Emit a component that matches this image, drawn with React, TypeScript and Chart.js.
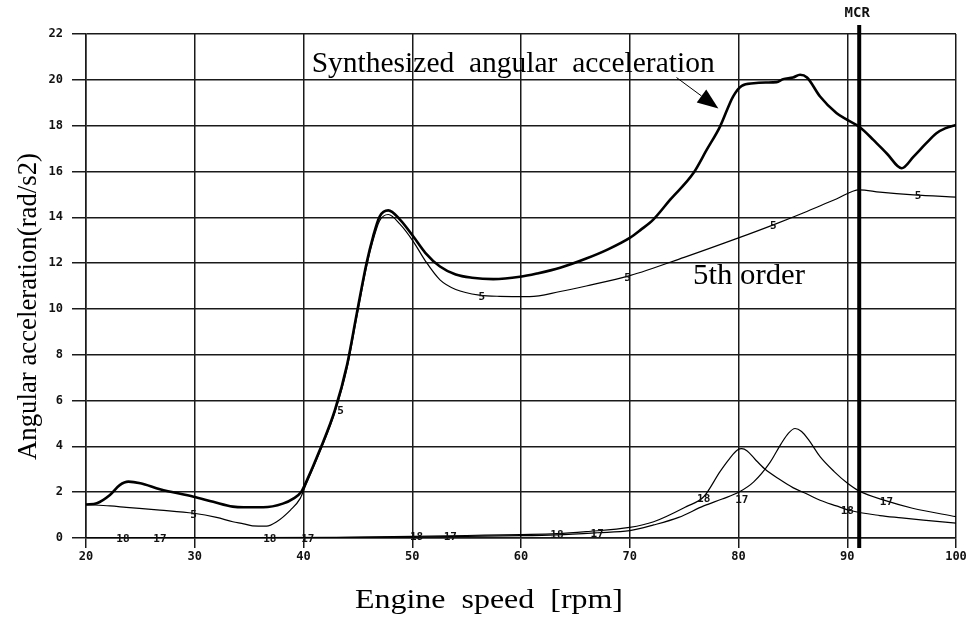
import React, { useEffect, useRef } from "react";
import { Chart, registerables } from "chart.js";
Chart.register(...registerables);

// ---- data ----
const synthRpm = [20, 21, 22.2, 23.1, 23.9, 25, 26.8, 29.9, 31.7, 33.5, 34.5, 36.3, 38.1, 39.1, 39.8, 40.2, 41.5, 42.9, 44.0, 44.9, 45.8, 46.4, 47.0, 47.8, 48.87, 50.1, 51.2, 52.55, 54, 55.5, 57.45, 59.9, 61.5, 63.6, 66, 68, 70, 71, 72.16, 73.7, 75.84, 77.07, 78.3, 79.5, 80.3, 81.4, 82.5, 83.5, 84.1, 85, 85.66, 86.3, 87.5, 89, 90, 91.1, 92.4, 93.7, 95, 96.1, 97.2, 98.2, 99, 100];
const synthVal = [1.46, 1.52, 1.88, 2.31, 2.46, 2.39, 2.13, 1.8, 1.58, 1.37, 1.34, 1.34, 1.5, 1.73, 2.02, 2.4, 3.84, 5.6, 7.55, 9.8, 12.0, 13.16, 14.03, 14.3, 13.9, 13.16, 12.45, 11.85, 11.5, 11.36, 11.3, 11.4, 11.55, 11.8, 12.2, 12.6, 13.1, 13.45, 13.9, 14.76, 15.92, 16.94, 17.96, 19.27, 19.74, 19.85, 19.88, 19.9, 20.03, 20.1, 20.22, 20.1, 19.27, 18.55, 18.25, 17.95, 17.38, 16.75, 16.14, 16.65, 17.2, 17.67, 17.88, 18.03];

const order5Rpm = [20, 22.2, 23.7, 26.8, 29.9, 32, 33.5, 34.5, 35.3, 36.6, 37.5, 38.8, 39.7, 40.2, 41.5, 42.9, 44.0, 44.9, 45.8, 46.4, 47.0, 47.8, 48.87, 50.1, 51.2, 52.55, 54, 56.2, 58, 60.8, 63.6, 66, 70, 75, 80, 83.2, 86, 89, 91.1, 93, 96.1, 100];
const order5Val = [1.46, 1.4, 1.34, 1.22, 1.08, 0.9, 0.71, 0.62, 0.53, 0.52, 0.7, 1.22, 1.73, 2.3, 3.75, 5.5, 7.4, 9.65, 11.85, 13.0, 13.85, 14.12, 13.7, 12.94, 12.1, 11.27, 10.85, 10.6, 10.55, 10.54, 10.76, 11.0, 11.45, 12.25, 13.1, 13.67, 14.2, 14.8, 15.2, 15.1, 14.98, 14.88];

const order18Rpm = [20, 43, 50, 55, 60, 63.3, 66, 70, 72.2, 75.2, 76.8, 78.3, 79.2, 79.9, 80.3, 80.8, 81.5, 82.4, 83.8, 85, 86.3, 87.5, 89, 90.25, 93, 95, 97, 100];
const order18Val = [0, 0.03, 0.07, 0.11, 0.15, 0.19, 0.28, 0.46, 0.71, 1.37, 1.8, 2.9, 3.48, 3.84, 3.9, 3.8, 3.45, 3.02, 2.55, 2.2, 1.92, 1.65, 1.4, 1.2, 0.98, 0.88, 0.78, 0.65];

const order17Rpm = [20, 43, 50, 55, 60, 63.3, 67, 70, 72.2, 74.5, 76.8, 78.5, 80.1, 81.4, 82.9, 83.9, 84.6, 85.2, 85.8, 86.5, 87.5, 88.8, 90, 91.1, 93.6, 96, 100];
const order17Val = [0, 0.02, 0.04, 0.07, 0.1, 0.14, 0.23, 0.32, 0.57, 0.9, 1.4, 1.7, 2.02, 2.45, 3.3, 4.1, 4.58, 4.78, 4.65, 4.25, 3.55, 2.9, 2.4, 2.05, 1.62, 1.3, 0.93];

// curve tags (order numbers written along each curve)
const order5TagRpm = [29.9, 43.4, 56.4, 69.8, 83.2, 96.5];
const order5TagVal = [1.05, 5.6, 10.57, 11.4, 13.67, 14.98];
const order18TagRpm = [23.4, 36.9, 50.4, 63.3, 76.8, 90.0];
const order18TagVal = [0, 0, 0.09, 0.17, 1.73, 1.22];
const order17TagRpm = [26.8, 40.4, 53.5, 67.0, 80.3, 93.6];
const order17TagVal = [0, 0, 0.09, 0.23, 1.69, 1.63];

const MCR_RPM = 91.1;

const X_MIN = 20, X_MAX = 100, X_STEP = 10;
const Y_MIN = 0, Y_MAX = 22, Y_STEP = 2;

const X_TITLE = "Engine  speed  [rpm]";
const Y_TITLE = "Angular acceleration(rad/s2)";
const SYNTH_NOTE = "Synthesized  angular  acceleration";
const ORDER5_NOTE = "5th order";
// annotation anchors in data coordinates
const SYNTH_NOTE_AT = [40.75, 20.36];
const ORDER5_NOTE_AT = [75.82, 11.09];
const ARROW_FROM = [74.3, 20.1];
const ARROW_TO = [78.15, 18.75];

const pts = (xs: number[], ys: number[]) => xs.map((x, i) => ({ x, y: ys[i] }));

function fitText(ctx: CanvasRenderingContext2D, text: string, font: string, x: number, y: number, width: number, align: CanvasTextAlign) {
  ctx.save();
  ctx.font = font;
  ctx.textAlign = align;
  ctx.textBaseline = "alphabetic";
  const w = ctx.measureText(text).width;
  ctx.translate(x, y);
  ctx.scale(width / w, 1);
  ctx.fillText(text, 0, 0);
  ctx.restore();
}

const overlay = {
  id: "overlay",
  afterDatasetsDraw(chart: any) {
    const { ctx, chartArea } = chart;
    const xs = chart.scales.x;
    const ys = chart.scales.y;
    ctx.save();
    ctx.fillStyle = "#111";
    ctx.strokeStyle = "#000";

    // curve tags
    ctx.font = 'bold 11px "DejaVu Sans Mono"';
    ctx.textAlign = "center";
    ctx.textBaseline = "middle";
    const tag = (r: number[], v: number[], t: string) =>
      r.forEach((rr, i) => ctx.fillText(t, xs.getPixelForValue(rr), ys.getPixelForValue(v[i]) + 1));
    tag(order5TagRpm, order5TagVal, "5");
    tag(order18TagRpm, order18TagVal, "18");
    tag(order17TagRpm, order17TagVal, "17");

    // MCR line
    const mx = xs.getPixelForValue(MCR_RPM);
    ctx.lineWidth = 4;
    ctx.beginPath();
    ctx.moveTo(mx, chartArea.top - 9);
    ctx.lineTo(mx, chartArea.bottom + 10);
    ctx.stroke();
    ctx.font = 'bold 14px "DejaVu Sans Mono"';
    ctx.textAlign = "center";
    ctx.textBaseline = "middle";
    ctx.fillText("MCR", mx - 2, 13);

    // notes
    ctx.fillStyle = "#000";
    fitText(ctx, SYNTH_NOTE, '30px "Liberation Serif"', xs.getPixelForValue(SYNTH_NOTE_AT[0]), ys.getPixelForValue(SYNTH_NOTE_AT[1]), 403, "left");
    fitText(ctx, ORDER5_NOTE, '30px "Liberation Serif"', xs.getPixelForValue(ORDER5_NOTE_AT[0]), ys.getPixelForValue(ORDER5_NOTE_AT[1]), 112, "left");

    // arrow
    const ax0 = xs.getPixelForValue(ARROW_FROM[0]);
    const ay0 = ys.getPixelForValue(ARROW_FROM[1]);
    const ax1 = xs.getPixelForValue(ARROW_TO[0]);
    const ay1 = ys.getPixelForValue(ARROW_TO[1]);
    const ang = Math.atan2(ay1 - ay0, ax1 - ax0);
    const hl = 21, hw = 8;
    ctx.lineWidth = 1;
    ctx.beginPath();
    ctx.moveTo(ax0, ay0);
    ctx.lineTo(ax1 - Math.cos(ang) * hl, ay1 - Math.sin(ang) * hl);
    ctx.stroke();
    ctx.beginPath();
    ctx.moveTo(ax1, ay1);
    const bx = ax1 - Math.cos(ang) * hl, by = ay1 - Math.sin(ang) * hl;
    ctx.lineTo(bx + Math.sin(ang) * hw, by - Math.cos(ang) * hw);
    ctx.lineTo(bx - Math.sin(ang) * hw, by + Math.cos(ang) * hw);
    ctx.closePath();
    ctx.fill();
    ctx.restore();
  },
  afterDraw(chart: any) {
    const { ctx } = chart;
    ctx.save();
    ctx.fillStyle = "#000";
    // x title
    fitText(ctx, X_TITLE, '28px "Liberation Serif"', 489, 608, 268, "center");
    // y title
    ctx.translate(36, 306.5);
    ctx.rotate(-Math.PI / 2);
    fitText(ctx, Y_TITLE, '28px "Liberation Serif"', 0, 0, 307, "center");
    ctx.restore();
  },
};

export default function App() {
  const ref = useRef<HTMLCanvasElement>(null);
  useEffect(() => {
    document.body.style.margin = "0";
    const thin = { borderColor: "#000", borderWidth: 1.2, pointRadius: 0, fill: false, cubicInterpolationMode: "monotone" as const };
    const chart = new Chart(ref.current!, {
      type: "line",
      data: {
        datasets: [
          { label: "Synthesized", data: pts(synthRpm, synthVal), borderColor: "#000", borderWidth: 2.6, pointRadius: 0, fill: false, cubicInterpolationMode: "monotone" },
          { label: "5", data: pts(order5Rpm, order5Val), ...thin },
          { label: "18", data: pts(order18Rpm, order18Val), ...thin },
          { label: "17", data: pts(order17Rpm, order17Val), ...thin },
        ],
      },
      options: {
        responsive: false,
        animation: false,
        devicePixelRatio: 1,
        layout: { padding: { top: 34, right: 14, bottom: 58, left: 0 } },
        plugins: { legend: { display: false }, tooltip: { enabled: false } },
        scales: {
          x: {
            type: "linear",
            min: X_MIN,
            max: X_MAX,
            afterFit: (s: any) => { s.height = 22; },
            ticks: { stepSize: X_STEP, autoSkip: false, maxRotation: 0, padding: 2, color: "#111", font: { family: '"DejaVu Sans Mono"', size: 12, weight: "bold" } },
            grid: { color: "#1a1a1a", lineWidth: 1.5, tickLength: 10, drawTicks: true },
            border: { display: true, color: "#1a1a1a", width: 1.5 },
          },
          y: {
            type: "linear",
            min: Y_MIN,
            max: Y_MAX,
            afterFit: (s: any) => { s.width = 86; },
            ticks: { stepSize: Y_STEP, padding: 9, color: "#111", font: { family: '"DejaVu Sans Mono"', size: 12, weight: "bold" } },
            grid: { color: "#1a1a1a", lineWidth: 1.5, tickLength: 14, drawTicks: true },
            border: { display: true, color: "#1a1a1a", width: 1.5 },
          },
        },
      },
      plugins: [overlay],
    });
    return () => chart.destroy();
  }, []);
  return <canvas ref={ref} width={970} height={618} style={{ display: "block" }} />;
}
